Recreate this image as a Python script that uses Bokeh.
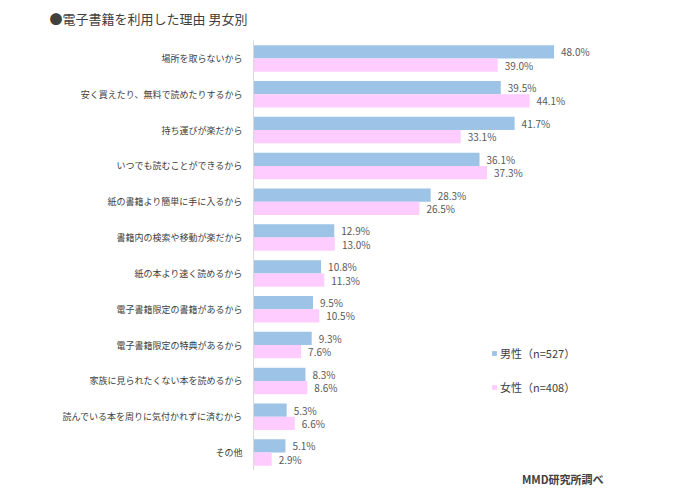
from bokeh.plotting import figure
from bokeh.models import ColumnDataSource, Legend, LegendItem, FactorRange, Range1d, Title
from bokeh.transform import dodge
from bokeh.embed import file_html
from bokeh.resources import INLINE
from bokeh.core.properties import value

categories = [
    "場所を取らないから",
    "安く買えたり、無料で読めたりするから",
    "持ち運びが楽だから",
    "いつでも読むことができるから",
    "紙の書籍より簡単に手に入るから",
    "書籍内の検索や移動が楽だから",
    "紙の本より速く読めるから",
    "電子書籍限定の書籍があるから",
    "電子書籍限定の特典があるから",
    "家族に見られたくない本を読めるから",
    "読んでいる本を周りに気付かれずに済むから",
    "その他",
]
male = [48.0, 39.5, 41.7, 36.1, 28.3, 12.9, 10.8, 9.5, 9.3, 8.3, 5.3, 5.1]
female = [39.0, 44.1, 33.1, 37.3, 26.5, 13.0, 11.3, 10.5, 7.6, 8.6, 6.6, 2.9]
series_names = ["男性（n=527）", "女性（n=408）"]
title_text = "●電子書籍を利用した理由 男女別"
source_text = "MMD研究所調べ"

FONT = "Noto Sans CJK JP"
BLUE = "#9DC3E6"
PINK = "#FFCCFF"

src = ColumnDataSource(dict(
    cat=categories,
    male=male,
    female=female,
    male_lbl=[f"{v:.1f}%" for v in male],
    female_lbl=[f"{v:.1f}%" for v in female],
))

W, H = 692, 490
p = figure(width=W, height=H, output_backend="svg", toolbar_location=None,
           y_range=FactorRange(*reversed(categories), range_padding=0),
           x_range=Range1d(0, 57.5),
           min_border_left=253, min_border_right=79,
           min_border_top=40, min_border_bottom=20)
p.outline_line_color = None
p.background_fill_color = "white"
p.border_fill_color = "white"
p.xgrid.visible = False
p.ygrid.visible = False
p.xaxis.visible = False

p.title.text = title_text
p.title.align = "left"
p.title.offset = -204
p.title.standoff = 7
p.title.text_font = FONT
p.title.text_font_size = "13px"
p.title.text_font_style = "normal"
p.title.text_color = "#404040"

# small spacer between title and plot area
p.add_layout(Title(text=" ", text_font_size="1px", standoff=6), "above")

p.add_layout(Title(text=source_text, align="right", offset=10, standoff=0,
                   vertical_align="top", text_font=FONT, text_font_size="11px",
                   text_font_style="bold", text_color="#404040"), "below")

ya = p.yaxis[0]
ya.axis_line_color = "#D9D9D9"
ya.major_tick_line_color = None
ya.minor_tick_line_color = None
ya.major_label_standoff = 5
ya.major_label_text_font = FONT
ya.major_label_text_font_size = "9px"
ya.major_label_text_color = "#404040"

bh = 0.37
off = 0.185
r_m = p.hbar(y=dodge("cat", off, range=p.y_range), right="male", left=0, height=bh,
             source=src, fill_color=BLUE, line_color=None)
r_f = p.hbar(y=dodge("cat", -off, range=p.y_range), right="female", left=0, height=bh,
             source=src, fill_color=PINK, line_color=None)

for col, lbl, o in (("male", "male_lbl", off), ("female", "female_lbl", -off)):
    p.text(x=col, y=dodge("cat", o, range=p.y_range), text=lbl, source=src,
           x_offset=7, text_baseline="middle", text_align="left",
           text_font=value(FONT), text_font_size="10px", text_color="#595959")

legend = Legend(items=[LegendItem(label=series_names[0], renderers=[r_m]),
                       LegendItem(label=series_names[1], renderers=[r_f])],
                location=(238, 73), orientation="vertical",
                glyph_width=6, glyph_height=6, label_standoff=3, spacing=14,
                padding=0, margin=0, border_line_color=None, background_fill_alpha=0,
                label_text_font=FONT, label_text_font_size="11px", label_text_color="#404040",
                label_height=20)
p.add_layout(legend, "center")

open("out.html", "w").write(file_html(p, INLINE))
